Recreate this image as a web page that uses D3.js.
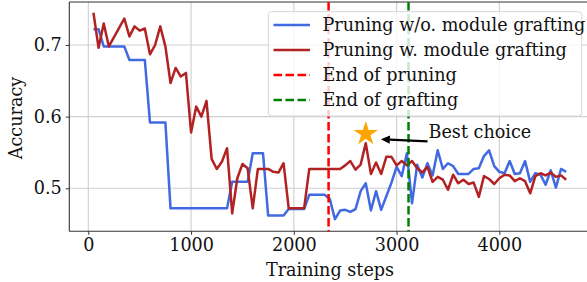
<!DOCTYPE html>
<html><head><meta charset="utf-8">
<script src="https://cdn.jsdelivr.net/npm/d3@7"></script>
<style>
html,body{margin:0;padding:0;background:#fff;}
svg{display:block;font-family:"DejaVu Serif",serif;}
</style></head><body>
<svg id="c" width="587" height="282"></svg>
<script>
const steps = d3.range(1, 94).map(i => i * 50);
const blueValues = [0.722,0.722,0.698,0.698,0.698,0.698,0.698,0.679,0.679,0.679,0.679,0.592,0.592,0.592,0.592,0.472,0.472,0.472,0.472,0.472,0.472,0.472,0.472,0.472,0.472,0.472,0.472,0.509,0.509,0.509,0.509,0.549,0.549,0.549,0.462,0.462,0.462,0.462,0.471,0.471,0.471,0.471,0.491,0.491,0.491,0.491,0.485,0.457,0.469,0.470,0.467,0.471,0.496,0.507,0.469,0.496,0.470,0.489,0.508,0.530,0.517,0.549,0.479,0.533,0.515,0.535,0.518,0.553,0.527,0.535,0.531,0.520,0.520,0.520,0.527,0.528,0.545,0.553,0.531,0.523,0.521,0.538,0.520,0.521,0.538,0.509,0.521,0.519,0.505,0.525,0.501,0.527,0.523];
const redValues = [0.745,0.696,0.730,0.698,0.711,0.724,0.737,0.712,0.726,0.720,0.723,0.687,0.700,0.726,0.698,0.647,0.668,0.656,0.661,0.578,0.614,0.600,0.622,0.541,0.527,0.537,0.556,0.465,0.514,0.534,0.528,0.472,0.527,0.527,0.527,0.523,0.522,0.535,0.472,0.472,0.472,0.472,0.527,0.527,0.527,0.527,0.527,0.527,0.527,0.532,0.538,0.526,0.533,0.563,0.520,0.536,0.520,0.544,0.544,0.532,0.538,0.532,0.538,0.528,0.522,0.530,0.509,0.516,0.512,0.498,0.519,0.507,0.512,0.506,0.508,0.488,0.517,0.513,0.506,0.514,0.519,0.518,0.510,0.514,0.510,0.493,0.517,0.521,0.518,0.522,0.516,0.518,0.512];
const seriesNames = ["Pruning w/o. module grafting","Pruning w. module grafting"];
const vlineNames = ["End of pruning","End of grafting"];
const vlineSteps = [2338, 3116];
const xTicks = [0,1000,2000,3000,4000];
const yTicks = [0.5,0.6,0.7];
const bestPoint = [2700, 0.576];
const arrowHead = [2847, 0.5685];
const arrowTail = [3301, 0.5655];
const bestLabel = "Best choice";

const svg = d3.select("#c");
const L = 69.3, R = 589.5, T = 2, B = 231.3;
const x = d3.scaleLinear().domain([-185, 4877]).range([L, R]);
const y = d3.scaleLinear().domain([0.44, 0.76]).range([B, T]);
const FS = 17.6;
const LW = 2.5;

// grid
const g = svg.append("g");
g.selectAll(".gx").data(xTicks).enter().append("line")
  .attr("x1", d => x(d)).attr("x2", d => x(d)).attr("y1", T).attr("y2", B)
  .attr("stroke", "#cfcfcf").attr("stroke-width", 1.1);
g.selectAll(".gy").data(yTicks).enter().append("line")
  .attr("y1", d => y(d)).attr("y2", d => y(d)).attr("x1", L).attr("x2", R)
  .attr("stroke", "#cfcfcf").attr("stroke-width", 1.1);

// axes
const xAxis = svg.append("g").attr("transform", `translate(0,${B})`)
  .call(d3.axisBottom(x).tickValues(xTicks).tickFormat(d3.format("d")).tickSize(3.5).tickPadding(4));
const yAxis = svg.append("g").attr("transform", `translate(${L},0)`)
  .call(d3.axisLeft(y).tickValues(yTicks).tickFormat(d3.format(".1f")).tickSize(3.5).tickPadding(4));
[xAxis, yAxis].forEach(a => {
  a.select(".domain").remove();
  a.selectAll("line").attr("stroke", "#333");
  a.selectAll("text").attr("font-family", "DejaVu Serif").attr("font-size", FS).attr("fill", "#111");
});
// spines
svg.append("line").attr("x1", L).attr("x2", L).attr("y1", T).attr("y2", B).attr("stroke", "#333").attr("stroke-width", 1.1);
svg.append("line").attr("x1", L).attr("x2", R).attr("y1", B).attr("y2", B).attr("stroke", "#333").attr("stroke-width", 1.1);
svg.append("line").attr("x1", L).attr("x2", R).attr("y1", T).attr("y2", T).attr("stroke", "#333").attr("stroke-width", 1.1);

// lines
const line = d3.line().x((d, i) => x(steps[i])).y(d => y(d));
svg.append("path").attr("d", line(blueValues)).attr("fill", "none")
  .attr("stroke", "#4169E1").attr("stroke-width", LW).attr("stroke-linejoin", "round");
svg.append("path").attr("d", line(redValues)).attr("fill", "none")
  .attr("stroke", "#B22222").attr("stroke-width", LW).attr("stroke-linejoin", "round");

const vColors = ["#ff0000", "#008000"];
svg.selectAll(".vl").data(vlineSteps).enter().append("line")
  .attr("x1", d => x(d)).attr("x2", d => x(d)).attr("y1", T).attr("y2", B)
  .attr("stroke", (d, i) => vColors[i]).attr("stroke-width", LW).attr("stroke-dasharray", "8.5,3.5");

// star
svg.append("path").attr("d", d3.symbol().type(d3.symbolStar).size(185)())
  .attr("transform", `translate(${x(bestPoint[0])},${y(bestPoint[1])})`)
  .attr("fill", "#FFA500");

// arrow
const hx = x(arrowHead[0]), hy = y(arrowHead[1]), tx = x(arrowTail[0]), ty = y(arrowTail[1]);
const ang = Math.atan2(hy - ty, hx - tx);
const hl = 9, hw = 4.2;
const bx = hx - hl * Math.cos(ang), by = hy - hl * Math.sin(ang);
svg.append("line").attr("x1", tx).attr("y1", ty).attr("x2", bx).attr("y2", by)
  .attr("stroke", "#000").attr("stroke-width", 2.2);
svg.append("path").attr("d", `M${hx},${hy}L${bx + hw * Math.sin(ang)},${by - hw * Math.cos(ang)}L${bx - hw * Math.sin(ang)},${by + hw * Math.cos(ang)}Z`)
  .attr("fill", "#000");
svg.append("text").attr("x", tx + 1).attr("y", ty - 3).attr("font-size", FS).attr("fill", "#111").text(bestLabel);

// legend
const lg = svg.append("g");
lg.append("rect").attr("x", 268.3).attr("y", 11.7).attr("width", 313.4).attr("height", 104.3)
  .attr("rx", 3).attr("fill", "#fff").attr("fill-opacity", 0.8).attr("stroke", "#d8d8d8").attr("stroke-width", 1);
const items = [
  {name: seriesNames[0], color: "#4169E1", dash: null},
  {name: seriesNames[1], color: "#B22222", dash: null},
  {name: vlineNames[0], color: "#ff0000", dash: "8.5,3.5"},
  {name: vlineNames[1], color: "#008000", dash: "8.5,3.5"}
];
items.forEach((it, i) => {
  const yy = 25 + i * 25;
  lg.append("line").attr("x1", 273.5).attr("x2", 310).attr("y1", yy).attr("y2", yy)
    .attr("stroke", it.color).attr("stroke-width", LW).attr("stroke-dasharray", it.dash);
  lg.append("text").attr("x", 322.5).attr("y", yy).attr("dy", "0.35em").attr("font-size", FS).attr("fill", "#111").text(it.name);
});

// axis labels
svg.append("text").attr("x", 330).attr("y", 276).attr("text-anchor", "middle").attr("font-size", FS).attr("fill", "#111").text("Training steps");
svg.append("text").attr("transform", "translate(22,118) rotate(-90)").attr("text-anchor", "middle").attr("font-size", FS).attr("fill", "#111").text("Accuracy");
</script></body></html>
